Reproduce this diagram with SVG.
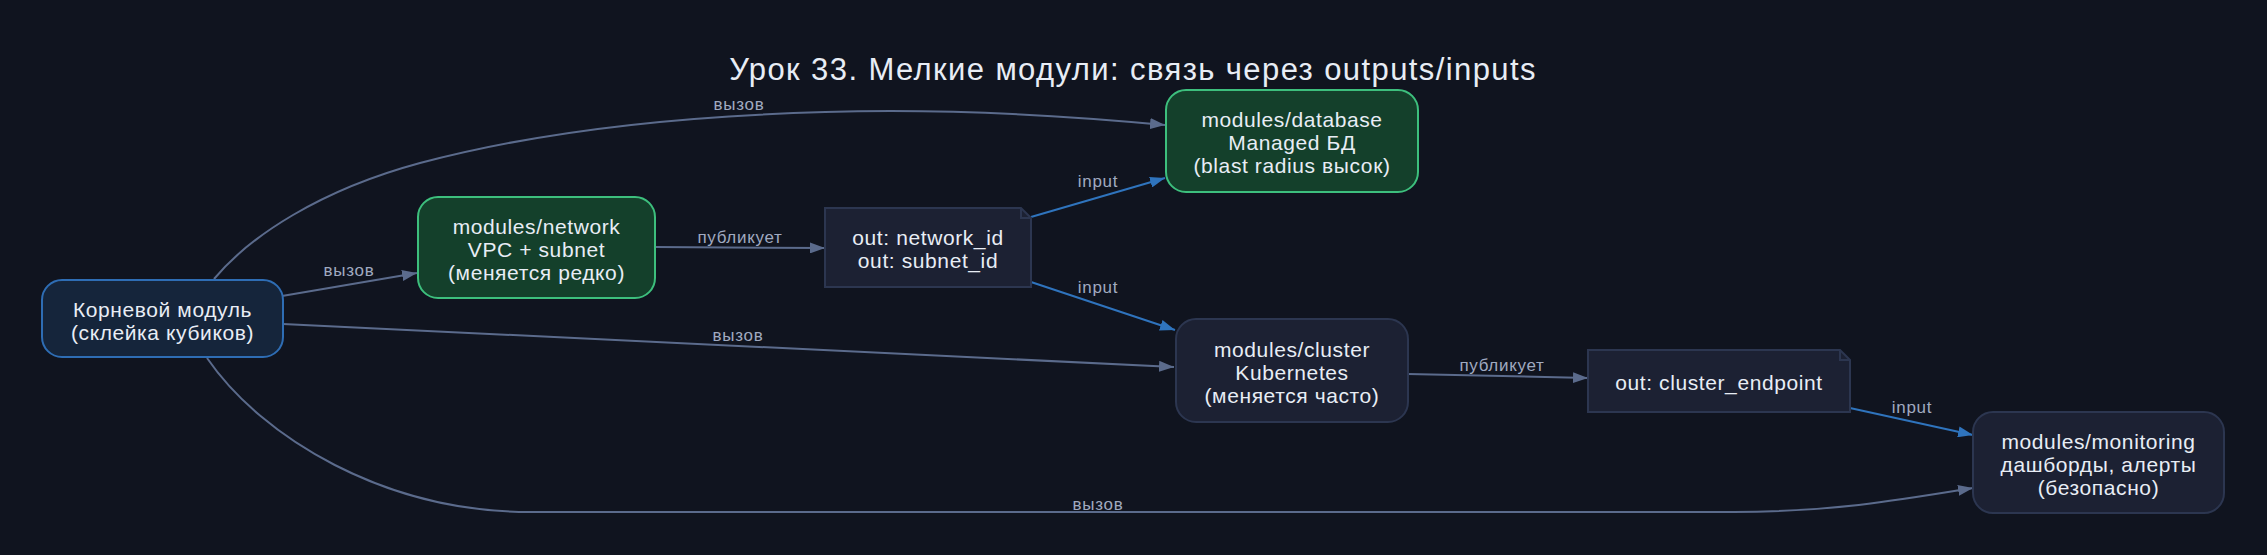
<svg xmlns="http://www.w3.org/2000/svg" width="2267" height="555" viewBox="0 0 2267 555">
<defs>
<marker id="ag" markerUnits="userSpaceOnUse" markerWidth="16" markerHeight="11" refX="15" refY="5.5" orient="auto"><path d="M0,0 L15,5.5 L0,11 z" fill="#5b6b8c"/></marker>
<marker id="ab" markerUnits="userSpaceOnUse" markerWidth="16" markerHeight="11" refX="15" refY="5.5" orient="auto"><path d="M0,0 L15,5.5 L0,11 z" fill="#2f74bd"/></marker>
<style>
text{font-family:"Liberation Sans",Arial,Helvetica,sans-serif;}
.t{font-size:21px;fill:#e8edf5;text-anchor:middle;letter-spacing:0.6px;}
.l{font-size:17px;fill:#a0aac0;text-anchor:middle;letter-spacing:0.7px;}
.eg{fill:none;stroke:#5b6b8c;stroke-width:2;marker-end:url(#ag);}
.eb{fill:none;stroke:#2f74bd;stroke-width:2;marker-end:url(#ab);}
.root{fill:#15253b;stroke:#2e6db4;stroke-width:2;}
.green{fill:#14402b;stroke:#3dbf7d;stroke-width:2;}
.gray{fill:#1c2133;stroke:#2c3650;stroke-width:2;}
</style>
</defs>
<rect width="2267" height="555" fill="#10141f"/>
<text x="1133" y="80" style="font-size:31px;fill:#e8edf5;text-anchor:middle;letter-spacing:1.4px;">Урок 33. Мелкие модули: связь через outputs/inputs</text>

<g id="connectors">
<path class="eg" d="M282,296 L417,273"/>
<text class="l" x="349" y="276">вызов</text>
<path class="eg" d="M214,279 C250,236 320,190 420,163 C540,131 700,112 891,111 C980,111 1080,117 1165,125"/>
<text class="l" x="739" y="110">вызов</text>
<path class="eg" d="M283,324 L1174,367"/>
<text class="l" x="738" y="341">вызов</text>
<path class="eg" d="M207,358 C262,438 385,512 530,512 L1734,512 C1830,512 1900,500 1973,488"/>
<text class="l" x="1098" y="510">вызов</text>
<path class="eg" d="M655,247 L825,248"/>
<text class="l" x="740" y="243">публикует</text>
<path class="eb" d="M1031,217 L1165,178"/>
<text class="l" x="1098" y="187">input</text>
<path class="eb" d="M1031,282 L1175,330"/>
<text class="l" x="1098" y="293">input</text>
<path class="eg" d="M1408,374 L1588,378"/>
<text class="l" x="1502" y="371">публикует</text>
<path class="eb" d="M1850,408 L1973,435"/>
<text class="l" x="1912" y="413">input</text>
</g>

<g id="root">
<rect class="root" x="42" y="280" width="241" height="77" rx="20"/>
<text class="t" x="162.5" y="317">Корневой модуль</text>
<text class="t" x="162.5" y="340">(склейка кубиков)</text>
</g>
<g id="network">
<rect class="green" x="418" y="197" width="237" height="101" rx="20"/>
<text class="t" x="536.5" y="234">modules/network</text>
<text class="t" x="536.5" y="257">VPC + subnet</text>
<text class="t" x="536.5" y="280">(меняется редко)</text>
</g>
<g id="database">
<rect class="green" x="1166" y="90" width="252" height="102" rx="20"/>
<text class="t" x="1292" y="127">modules/database</text>
<text class="t" x="1292" y="150">Managed БД</text>
<text class="t" x="1292" y="173">(blast radius высок)</text>
</g>
<g id="net_outputs">
<path class="gray" d="M825,208 L1021,208 L1031,218 L1031,287 L825,287 Z"/>
<path d="M1021,208 L1021,218 L1031,218" fill="none" stroke="#2c3650" stroke-width="2"/>
<text class="t" x="928" y="245">out: network_id</text>
<text class="t" x="928" y="268">out: subnet_id</text>
</g>
<g id="cluster">
<rect class="gray" x="1176" y="319" width="232" height="103" rx="20"/>
<text class="t" x="1292" y="357">modules/cluster</text>
<text class="t" x="1292" y="380">Kubernetes</text>
<text class="t" x="1292" y="403">(меняется часто)</text>
</g>
<g id="cluster_outputs">
<path class="gray" d="M1588,350 L1840,350 L1850,360 L1850,412 L1588,412 Z"/>
<path d="M1840,350 L1840,360 L1850,360" fill="none" stroke="#2c3650" stroke-width="2"/>
<text class="t" x="1719" y="390">out: cluster_endpoint</text>
</g>
<g id="monitoring">
<rect class="gray" x="1973" y="412" width="251" height="101" rx="20"/>
<text class="t" x="2098.5" y="449">modules/monitoring</text>
<text class="t" x="2098.5" y="472">дашборды, алерты</text>
<text class="t" x="2098.5" y="495">(безопасно)</text>
</g>
</svg>
